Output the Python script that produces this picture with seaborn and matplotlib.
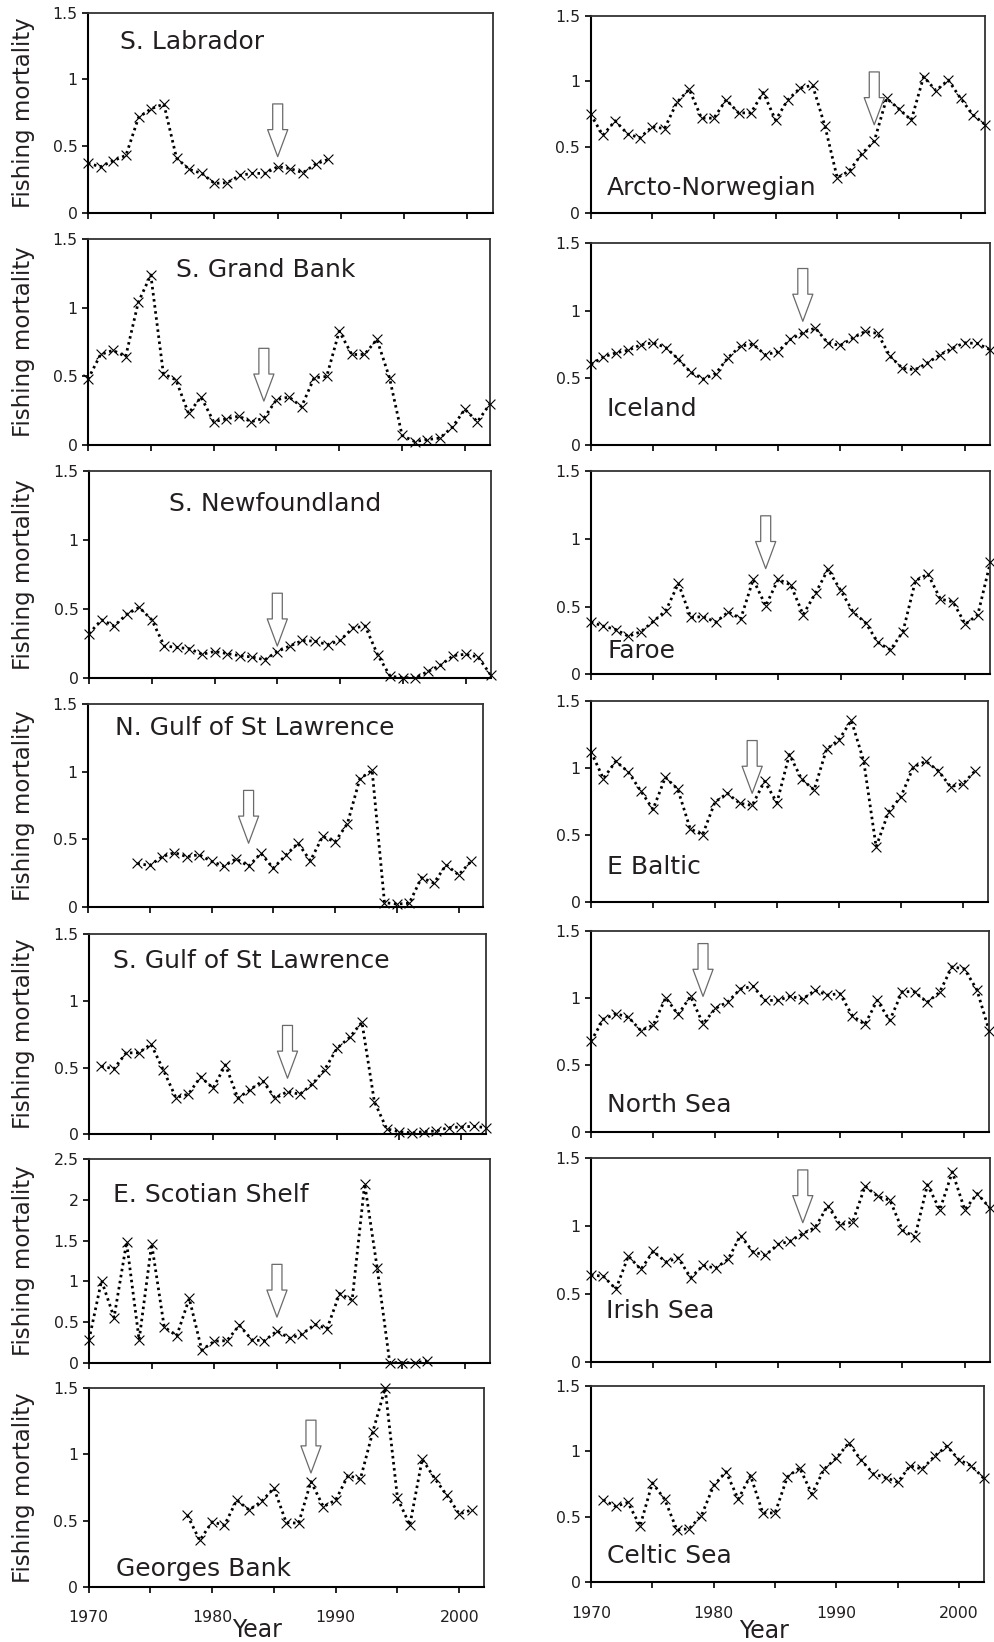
import matplotlib
matplotlib.use("Agg")
import matplotlib.pyplot as plt
import pandas as pd
import seaborn as sns

sns.set_theme(style="white")
plt.rcParams["font.family"] = ["DejaVu Sans"]

# ---------------- data (fishing mortality by year) ----------------
labrador_start = 1970
labrador_f = [0.37, 0.345, 0.39, 0.43, 0.715, 0.78, 0.815, 0.41, 0.325, 0.295,
              0.22, 0.225, 0.28, 0.295, 0.295, 0.345, 0.33, 0.30, 0.365, 0.40]

grandbank_start = 1970
grandbank_f = [0.48, 0.66, 0.69, 0.645, 1.04, 1.24, 0.52, 0.475, 0.23, 0.35,
               0.17, 0.19, 0.21, 0.17, 0.195, 0.33, 0.35, 0.28, 0.49, 0.50,
               0.83, 0.66, 0.66, 0.77, 0.49, 0.07, 0.025, 0.04, 0.05, 0.13,
               0.26, 0.17, 0.30]

newfoundland_start = 1970
newfoundland_f = [0.32, 0.42, 0.375, 0.46, 0.51, 0.42, 0.23, 0.22, 0.21, 0.17,
                  0.19, 0.175, 0.16, 0.15, 0.13, 0.19, 0.23, 0.27, 0.265, 0.24,
                  0.27, 0.36, 0.375, 0.165, 0.01, 0.0, 0.0, 0.045, 0.09, 0.16,
                  0.17, 0.15, 0.02]

ngulf_start = 1974
ngulf_f = [0.32, 0.305, 0.37, 0.40, 0.37, 0.385,
           0.335, 0.30, 0.355, 0.30, 0.395, 0.285, 0.38, 0.47, 0.34, 0.52,
           0.48, 0.615, 0.945, 1.01, 0.03, 0.02, 0.025, 0.215, 0.175, 0.31,
           0.235, 0.335]

sgulf_start = 1971
sgulf_f = [0.51, 0.49, 0.61, 0.61, 0.675, 0.48, 0.275, 0.30, 0.43,
           0.345, 0.52, 0.27, 0.335, 0.40, 0.27, 0.32, 0.30, 0.375, 0.485,
           0.645, 0.725, 0.84, 0.245, 0.04, 0.02, 0.01, 0.02, 0.025, 0.05,
           0.055, 0.06, 0.05]

scotian_start = 1970
scotian_f = [0.28, 1.01, 0.555, 1.48, 0.28, 1.46, 0.44, 0.33, 0.79, 0.155,
             0.265, 0.27, 0.46, 0.28, 0.27, 0.39, 0.30, 0.35, 0.47, 0.42,
             0.85, 0.77, 2.20, 1.16, 0.0, 0.0, 0.0, 0.02]

georges_start = 1978
georges_f = [0.54, 0.35,
             0.49, 0.465, 0.655, 0.58, 0.645, 0.745, 0.485, 0.48, 0.795, 0.605,
             0.655, 0.84, 0.815, 1.17, 1.50, 0.67, 0.465, 0.965, 0.82, 0.69,
             0.55, 0.58]

arcto_start = 1970
arcto_f = [0.75, 0.59, 0.70, 0.60, 0.57, 0.655, 0.64, 0.84, 0.94, 0.72,
           0.72, 0.86, 0.76, 0.76, 0.915, 0.705, 0.86, 0.95, 0.97, 0.66,
           0.265, 0.32, 0.45, 0.545, 0.87, 0.79, 0.705, 1.035, 0.93, 1.01,
           0.87, 0.745, 0.67, 0.55]

iceland_start = 1970
iceland_f = [0.60, 0.655, 0.685, 0.705, 0.745, 0.76, 0.725, 0.64, 0.54, 0.49,
             0.53, 0.65, 0.735, 0.75, 0.67, 0.695, 0.785, 0.835, 0.87, 0.76,
             0.74, 0.795, 0.845, 0.83, 0.66, 0.57, 0.56, 0.61, 0.67, 0.72,
             0.76, 0.755, 0.71]

faroe_start = 1970
faroe_f = [0.385, 0.355, 0.33, 0.28, 0.315, 0.39, 0.47, 0.67, 0.42, 0.425,
           0.385, 0.46, 0.41, 0.70, 0.505, 0.70, 0.66, 0.44, 0.60, 0.775,
           0.62, 0.46, 0.38, 0.235, 0.18, 0.315, 0.69, 0.74, 0.555, 0.535,
           0.37, 0.44, 0.825]

baltic_start = 1970
baltic_f = [1.12, 0.92, 1.05, 0.97, 0.83, 0.69, 0.93, 0.84, 0.545, 0.50,
            0.745, 0.81, 0.735, 0.72, 0.90, 0.74, 1.10, 0.915, 0.835, 1.14,
            1.21, 1.355, 1.05, 0.41, 0.67, 0.785, 1.005, 1.05, 0.98, 0.86,
            0.88, 0.98]

northsea_start = 1970
northsea_f = [0.675, 0.84, 0.88, 0.855, 0.755, 0.795, 1.00, 0.875, 1.01, 0.805,
              0.92, 0.97, 1.065, 1.085, 0.98, 0.98, 1.01, 0.99, 1.055, 1.02,
              1.03, 0.865, 0.80, 0.98, 0.83, 1.045, 1.045, 0.965, 1.04, 1.23,
              1.215, 1.06, 0.75]

irish_start = 1970
irish_f = [0.64, 0.63, 0.535, 0.78, 0.68, 0.815, 0.735, 0.765, 0.62, 0.71,
           0.69, 0.755, 0.93, 0.81, 0.785, 0.865, 0.89, 0.945, 0.99, 1.15,
           1.01, 1.03, 1.295, 1.22, 1.19, 0.97, 0.92, 1.305, 1.12, 1.40,
           1.12, 1.24, 1.135, 1.05]

celtic_start = 1971
celtic_f = [0.63, 0.58, 0.61, 0.43, 0.76, 0.635, 0.40, 0.41, 0.51,
            0.74, 0.845, 0.635, 0.815, 0.53, 0.53, 0.805, 0.875, 0.675, 0.865,
            0.95, 1.065, 0.935, 0.83, 0.80, 0.765, 0.89, 0.865, 0.965, 1.04,
            0.935, 0.89, 0.795, 0.62]

# stock names and arrow (year, value at arrow tip)
names = ["S. Labrador", "S. Grand Bank", "S. Newfoundland",
         "N. Gulf of St Lawrence", "S. Gulf of St Lawrence",
         "E. Scotian Shelf", "Georges Bank",
         "Arcto-Norwegian", "Iceland", "Faroe", "E Baltic",
         "North Sea", "Irish Sea", "Celtic Sea"]
starts = [labrador_start, grandbank_start, newfoundland_start, ngulf_start,
          sgulf_start, scotian_start, georges_start,
          arcto_start, iceland_start, faroe_start, baltic_start,
          northsea_start, irish_start, celtic_start]
series = [labrador_f, grandbank_f, newfoundland_f, ngulf_f, sgulf_f,
          scotian_f, georges_f, arcto_f, iceland_f, faroe_f, baltic_f,
          northsea_f, irish_f, celtic_f]
arrow_year = [1985, 1984, 1985, 1983, 1986, 1985, 1988,
              1993, 1987, 1984, 1983, 1979, 1987, None]
arrow_tip = [0.42, 0.32, 0.23, 0.47, 0.42, 0.56, 0.86,
             0.67, 0.92, 0.78, 0.81, 1.01, 1.025, None]
y_max = [1.5, 1.5, 1.5, 1.5, 1.5, 2.5, 1.5,
         1.5, 1.5, 1.5, 1.5, 1.5, 1.5, 1.5]
y_tick_labels_15 = ["0", "0.5", "1", "1.5"]
y_tick_labels_25 = ["0", "0.5", "1", "1.5", "2", "2.5"]
x_tick_labels = ["1970", "", "1980", "", "1990", "", "2000"]

# ---------------- layout (pixels: left, top, right, bottom) ----------------
W, H = 994, 1642
boxes = [(88, 12.7, 492.7, 212.7), (88, 239.3, 490, 445),
         (89, 471, 490.7, 677.7), (88, 704, 483.3, 906.7),
         (89, 934, 486, 1134.3), (89, 1159.3, 490, 1362.7),
         (88.5, 1388.3, 484, 1586.7),
         (590.5, 15.7, 985.3, 212.7), (591, 243.3, 989.7, 445),
         (591, 471, 990.3, 674.3), (591, 701, 987.7, 901.7),
         (591, 930.7, 989.3, 1131.7), (591, 1158.3, 989.7, 1361.7),
         (591, 1386, 983.7, 1582.3)]
# label positions (x year, y as fraction of y range)
title_pos = [(1972.5, 0.853), (1977.0, 0.853), (1976.4, 0.84), (1972.2, 0.88),
             (1971.9, 0.867), (1971.9, 0.824), (1972.2, 0.087),
             (1971.35, 0.123), (1971.25, 0.18), (1971.3, 0.113),
             (1971.3, 0.173), (1971.3, 0.133), (1971.2, 0.247), (1971.3, 0.133)]

TXT = "#231f20"
fig = plt.figure(figsize=(W / 100, H / 100), dpi=100)

for i, name in enumerate(names):
    l, t, r, b = boxes[i]
    ax = fig.add_axes([l / W, 1 - b / H, (r - l) / W, (b - t) / H])
    vals = series[i]
    years = list(range(starts[i], starts[i] + len(vals)))
    df = pd.DataFrame({"Year": years, "F": vals})
    sns.lineplot(data=df, x="Year", y="F", ax=ax, color="black",
                 linestyle=(0, (0.9, 1.3)), linewidth=2.0, estimator=None,
                 sort=False, zorder=2)
    inside = df[(df["Year"] >= 1970) & (df["Year"] <= 2002)]
    sns.scatterplot(data=inside, x="Year", y="F", ax=ax, marker="x", s=50,
                    color="black", linewidth=0.8, clip_on=False, zorder=3,
                    legend=False)
    ax.set_xlim(1970, 2002)
    ax.set_ylim(0, y_max[i])
    ax.set_xlabel("")
    ax.set_ylabel("")
    ax.set_xticks(range(1970, 2001, 5))
    bottom_row = i in (6, 13)
    ax.set_xticklabels(x_tick_labels if bottom_row else [""] * 7)
    if y_max[i] > 2:
        ax.set_yticks([0, 0.5, 1, 1.5, 2, 2.5])
        ax.set_yticklabels(y_tick_labels_25)
    else:
        ax.set_yticks([0, 0.5, 1, 1.5])
        ax.set_yticklabels(y_tick_labels_15)
    ax.tick_params(axis="both", direction="out", length=4.5, width=1.2,
                   color="black", labelsize=11.3, labelcolor=TXT,
                   bottom=True, left=True)
    ax.tick_params(axis="y", pad=3)
    ax.tick_params(axis="x", pad=12.5)
    for side in ("left", "bottom"):
        ax.spines[side].set_color("black")
        ax.spines[side].set_linewidth(1.5)
    for side in ("top", "right"):
        ax.spines[side].set_color("#333333")
        ax.spines[side].set_linewidth(1.3)
    ax.set_facecolor("white")
    tx, ty = title_pos[i]
    ax.text(tx, ty * y_max[i], name, fontsize=18, color=TXT,
            ha="left", va="center")
    if arrow_year[i] is not None:
        ax.annotate("", xy=(arrow_year[i], arrow_tip[i]), xytext=(0, 38),
                    textcoords="offset points",
                    arrowprops=dict(
                        arrowstyle="simple,head_length=1.95,head_width=1.45,tail_width=0.72",
                        fc="white", ec="#6a6a6a", lw=0.9,
                        shrinkA=0, shrinkB=0, mutation_scale=10),
                    zorder=4)
    if i < 7:
        fig.text(23.5 / W, 1 - ((t + b) / 2) / H, "Fishing mortality",
                 rotation=90, ha="center", va="center", fontsize=16.5,
                 color=TXT)

fig.text(257 / W, 1 - 1630 / H, "Year", ha="center", va="center",
         fontsize=17, color=TXT)
fig.text(764 / W, 1 - 1631 / H, "Year", ha="center", va="center",
         fontsize=17, color=TXT)

fig.savefig("out.png", dpi=100, facecolor="white")
